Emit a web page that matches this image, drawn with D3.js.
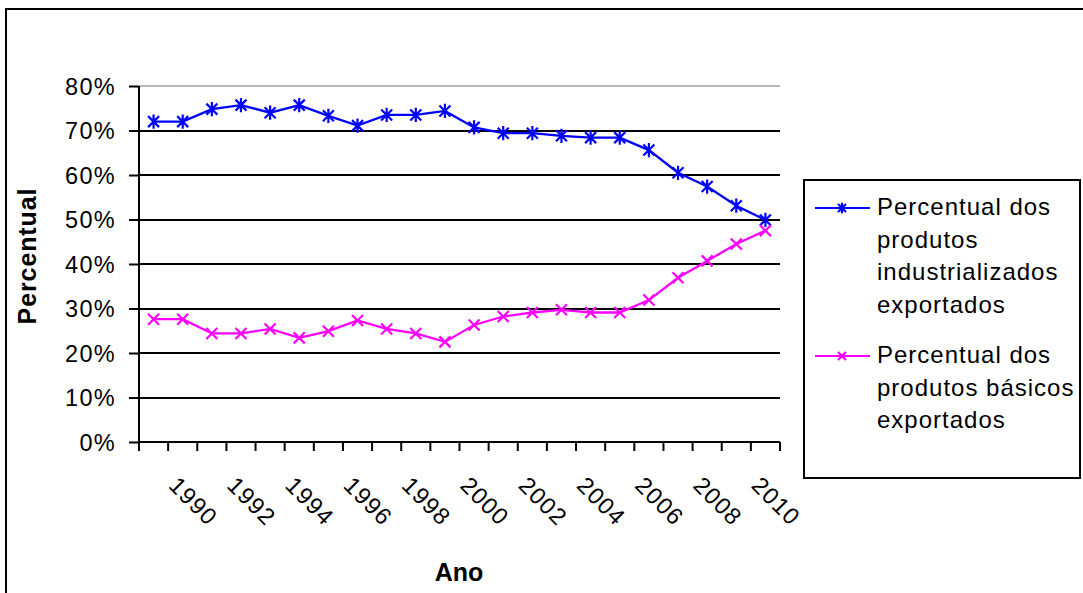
<!DOCTYPE html>
<html>
<head>
<meta charset="utf-8">
<script src="https://cdn.jsdelivr.net/npm/d3@7"></script>
<style>
  html, body { margin: 0; padding: 0; background: #fff; }
  svg { display: block; font-family: "Liberation Sans", Arial, sans-serif; }
</style>
</head>
<body>
<svg id="chart" width="1083" height="593"></svg>
<script>
const years = [1989, 1990, 1991, 1992, 1993, 1994, 1995, 1996, 1997, 1998, 1999,
               2000, 2001, 2002, 2003, 2004, 2005, 2006, 2007, 2008, 2009, 2010];
const industrializados = [72.0, 72.0, 74.8, 75.7, 74.0, 75.7, 73.3, 71.1, 73.5, 73.5, 74.4,
                          70.7, 69.4, 69.4, 68.8, 68.4, 68.4, 65.6, 60.5, 57.4, 53.1, 49.9];
const basicos = [27.6, 27.6, 24.4, 24.4, 25.4, 23.4, 24.9, 27.3, 25.4, 24.4, 22.5,
                 26.3, 28.2, 29.1, 29.7, 29.1, 29.1, 31.9, 36.9, 40.7, 44.5, 47.5];
const yTicks = [0, 10, 20, 30, 40, 50, 60, 70, 80];
const xLabelYears = [1990, 1992, 1994, 1996, 1998, 2000, 2002, 2004, 2006, 2008, 2010];
const seriesNames = [
  ["Percentual dos", "produtos", "industrializados", "exportados"],
  ["Percentual dos", "produtos básicos", "exportados"]
];
const seriesColors = ["#0000ff", "#ff00ff"];

const svg = d3.select("#chart");
const plot = { left: 139, right: 780, top: 86, bottom: 442 };

// outer chart frame
svg.append("rect").attr("x", 6).attr("y", 9).attr("width", 1100).attr("height", 600)
  .attr("fill", "#fff").attr("stroke", "#000").attr("stroke-width", 2);

const x = d3.scaleBand().domain(years).range([plot.left, plot.right]).padding(0);
const y = d3.scaleLinear().domain([0, 80]).range([plot.bottom, plot.top]);

// gridlines
svg.append("g").selectAll("line").data(yTicks.filter(t => t > 0)).join("line")
  .attr("x1", plot.left).attr("x2", plot.right)
  .attr("y1", d => Math.round(y(d))).attr("y2", d => Math.round(y(d)))
  .attr("stroke", d => d === 80 ? "#b8b8b8" : "#000")
  .attr("stroke-width", 2);

// y axis
const yAxis = d3.axisLeft(y).tickValues(yTicks).tickSize(10).tickPadding(13)
  .tickFormat(d => d + "%");
const gy = svg.append("g").attr("transform", `translate(${plot.left},0)`).call(yAxis);
gy.select(".domain").attr("stroke", "#000").attr("stroke-width", 2).attr("d", `M0,${plot.top}V${plot.bottom}`);
gy.selectAll(".tick line").attr("stroke", "#000").attr("stroke-width", 2);
gy.selectAll(".tick text").attr("fill", "#000").attr("font-size", 23.5).attr("letter-spacing", 1.3)
  .attr("font-family", "Liberation Sans, Arial, sans-serif").attr("dy", "0.36em");

// x axis line and ticks at category boundaries
const bounds = years.map(yr => x(yr)).concat([plot.right]);
svg.append("line").attr("x1", plot.left - 1).attr("x2", plot.right)
  .attr("y1", plot.bottom).attr("y2", plot.bottom)
  .attr("stroke", "#000").attr("stroke-width", 2);
svg.append("g").selectAll("line").data(bounds).join("line")
  .attr("x1", d => d).attr("x2", d => d)
  .attr("y1", plot.bottom).attr("y2", plot.bottom + 9)
  .attr("stroke", "#000").attr("stroke-width", 2);

// x labels rotated
svg.append("g").selectAll("text").data(xLabelYears).join("text")
  .attr("transform", d => `translate(${x(d) + x.bandwidth() / 2 + 5},507) rotate(45)`)
  .attr("text-anchor", "middle")
  .attr("font-size", 23.5).attr("letter-spacing", 1.2)
  .attr("fill", "#000")
  .text(d => d);

// axis titles
svg.append("text").attr("transform", "translate(36,256) rotate(-90)")
  .attr("text-anchor", "middle").attr("font-weight", "bold").attr("font-size", 25)
  .attr("letter-spacing", 0.9).text("Percentual");
svg.append("text").attr("x", 459).attr("y", 581)
  .attr("text-anchor", "middle").attr("font-weight", "bold").attr("font-size", 25)
  .text("Ano");

// markers
function star(g, cx, cy, r, color) {
  g.append("path")
    .attr("d", `M${cx - r},${cy - r}L${cx + r},${cy + r}M${cx - r},${cy + r}L${cx + r},${cy - r}M${cx},${cy - r * 1.3}L${cx},${cy + r * 1.3}`)
    .attr("stroke", color).attr("stroke-width", 2.2).attr("fill", "none");
}
function cross(g, cx, cy, r, color) {
  g.append("path")
    .attr("d", `M${cx - r},${cy - r}L${cx + r},${cy + r}M${cx - r},${cy + r}L${cx + r},${cy - r}`)
    .attr("stroke", color).attr("stroke-width", 2.2).attr("fill", "none");
}

const line = d3.line().x((d, i) => x(years[i]) + x.bandwidth() / 2).y(d => y(d));
const allSeries = [industrializados, basicos];
allSeries.forEach((vals, si) => {
  const g = svg.append("g");
  g.append("path").attr("d", line(vals)).attr("fill", "none")
    .attr("stroke", seriesColors[si]).attr("stroke-width", 2.3);
  vals.forEach((v, i) => {
    const cx = x(years[i]) + x.bandwidth() / 2, cy = y(v);
    if (si === 0) star(g, cx, cy, 5.5, seriesColors[si]);
    else cross(g, cx, cy, 5.5, seriesColors[si]);
  });
});

// legend
const lg = svg.append("g");
lg.append("rect").attr("x", 804).attr("y", 180).attr("width", 276).attr("height", 298)
  .attr("fill", "#fff").attr("stroke", "#000").attr("stroke-width", 2);
const legendBase = [215, 363];
seriesNames.forEach((lines, si) => {
  const by = legendBase[si];
  lg.append("line").attr("x1", 815).attr("x2", 870).attr("y1", by - 7).attr("y2", by - 7)
    .attr("stroke", seriesColors[si]).attr("stroke-width", 2.2);
  if (si === 0) star(lg, 842, by - 7, 4, seriesColors[si]);
  else cross(lg, 842, by - 7, 4, seriesColors[si]);
  lines.forEach((t, li) => {
    lg.append("text").attr("x", 877).attr("y", by + li * 32.5)
      .attr("font-size", 24).attr("letter-spacing", 1.0).attr("fill", "#000").text(t);
  });
});
</script>
</body>
</html>
